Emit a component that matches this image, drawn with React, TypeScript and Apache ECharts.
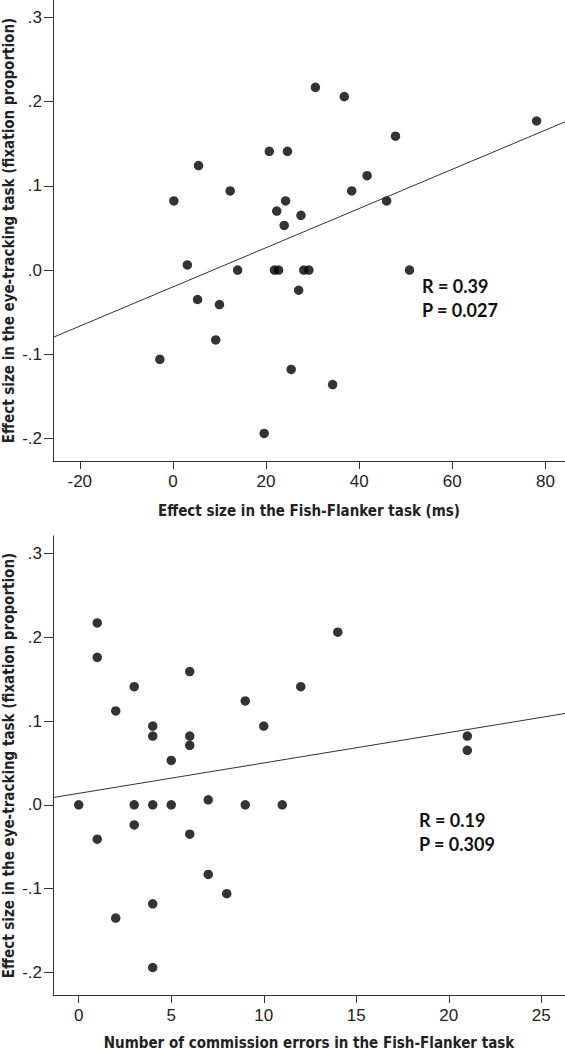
import React, { useEffect, useRef } from "react";
import * as echarts from "echarts";

// Top panel: Fish-Flanker effect size (ms) vs eye-tracking effect size
const flankerEffect = [0.2, 5.5, 12.3, 20.7, 24.6, 24.2, 22.3, 23.9, 27.5, 30.6, 36.8, 47.8, 41.7, 38.4, 45.9, 78.1, 3.1, 13.9, 21.8, 22.7, 28.1, 29.2, 5.3, 10.0, 9.2, -2.8, 19.6, 27.0, 25.4, 34.3, 50.8];
const eyeEffectTop = [0.082, 0.124, 0.094, 0.141, 0.141, 0.082, 0.070, 0.053, 0.065, 0.217, 0.206, 0.159, 0.112, 0.094, 0.082, 0.177, 0.006, 0, 0, 0, 0, 0, -0.035, -0.041, -0.083, -0.106, -0.194, -0.024, -0.118, -0.136, 0];

// Bottom panel: commission errors vs eye-tracking effect size
const commissionErrors = [1, 1, 2, 3, 4, 4, 5, 6, 6, 6, 9, 10, 12, 14, 21, 21, 0, 3, 4, 5, 7, 9, 11, 1, 3, 6, 7, 8, 4, 2, 4];
const eyeEffectBottom = [0.217, 0.176, 0.112, 0.141, 0.094, 0.082, 0.053, 0.159, 0.082, 0.071, 0.124, 0.094, 0.141, 0.206, 0.082, 0.065, 0, 0, 0, 0, 0.006, 0, 0, -0.041, -0.024, -0.035, -0.083, -0.106, -0.118, -0.135, -0.194];

// Fit lines (end points read at the axis edges)
const fitTop = [[-25.75, -0.080], [84.2, 0.176]];
const fitBottom = [[-1.39, 0.0087], [26.28, 0.109]];

// Axis ranges and tick labels
const xRangeTop = [-25.75, 84.2];
const xRangeBottom = [-1.39, 26.28];
const yRange = [-0.2268, 0.3207];
const xTicksTop = [-20, 0, 20, 40, 60, 80];
const xTicksBottom = [0, 5, 10, 15, 20, 25];
const yTicks = [-0.2, -0.1, 0, 0.1, 0.2, 0.3];

const statsTop = ["R = 0.39", "P = 0.027"];
const statsBottom = ["R = 0.19", "P = 0.309"];

const xTitleTop = "Effect size in the Fish-Flanker task (ms)";
const xTitleBottom = "Number of commission errors in the Fish-Flanker task";
const yTitle = "Effect size in the eye-tracking task (fixation proportion)";

const AXIS_COLOR = "#333";
const TICK_FONT = "'Liberation Sans', Arial, sans-serif";
const TITLE_FONT = "'Liberation Sans Narrow', 'DejaVu Sans Condensed', 'Liberation Sans', sans-serif";
const STAT_FONT = "Lato, 'Open Sans', sans-serif";

const fmtY = (v: number) => {
  const s = v.toFixed(1);
  return s.replace(/^(-?)0\./, "$1.");
};

function xAxisCfg(gridIndex: number, range: number[], ticks: number[], title: string, gap: number) {
  return {
    type: "value",
    gridIndex,
    min: range[0],
    max: range[1],
    name: title,
    nameLocation: "middle",
    nameGap: gap,
    nameMoveOverlap: false,
    nameTextStyle: { fontFamily: TITLE_FONT, fontWeight: "bold", fontSize: 15, color: "#222" },
    axisLine: { show: true, onZero: false, lineStyle: { color: AXIS_COLOR, width: 1 } },
    axisTick: { show: true, length: 8, customValues: ticks, lineStyle: { color: AXIS_COLOR } },
    axisLabel: { customValues: ticks, margin: 12, fontFamily: TICK_FONT, fontSize: 17, color: "#222" },
    splitLine: { show: false },
  };
}

function yAxisCfg(gridIndex: number) {
  return {
    type: "value",
    gridIndex,
    min: yRange[0],
    max: yRange[1],
    name: yTitle,
    nameLocation: "middle",
    nameGap: 37,
    nameMoveOverlap: false,
    nameTextStyle: { fontFamily: TITLE_FONT, fontWeight: "bold", fontSize: 15, color: "#222" },
    axisLine: { show: true, onZero: false, lineStyle: { color: AXIS_COLOR, width: 1 } },
    axisTick: { show: true, length: 9, customValues: yTicks, lineStyle: { color: AXIS_COLOR } },
    axisLabel: { customValues: yTicks, margin: 11, fontFamily: TICK_FONT, fontSize: 17, color: "#222", formatter: fmtY },
    splitLine: { show: false },
  };
}

export default function App() {
  const ref = useRef<HTMLDivElement>(null);
  useEffect(() => {
    document.body.style.margin = "0";
    if (!ref.current) return;
    const chart = echarts.init(ref.current, undefined, { renderer: "svg" });
    const topPts = flankerEffect.map((x, i) => [x, eyeEffectTop[i]]);
    const botPts = commissionErrors.map((x, i) => [x, eyeEffectBottom[i]]);
    const statText = (lines: string[], x: number, y: number) =>
      lines.map((t, i) => ({
        type: "text",
        x,
        y: y + i * 24,
        style: { text: t, font: `bold 18px ${STAT_FONT}`, fill: "#111", verticalAlign: "middle", align: "left" },
      }));
    chart.setOption({
      animation: false,
      backgroundColor: "#fff",
      grid: [
        { left: 53, top: 0, width: 512, height: 461, outerBoundsMode: "none", containLabel: false },
        { left: 53, top: 536, width: 512, height: 459, outerBoundsMode: "none", containLabel: false },
      ],
      xAxis: [
        xAxisCfg(0, xRangeTop, xTicksTop, xTitleTop, 42),
        xAxisCfg(1, xRangeBottom, xTicksBottom, xTitleBottom, 40),
      ],
      yAxis: [yAxisCfg(0), yAxisCfg(1)],
      series: [
        {
          type: "line",
          xAxisIndex: 0,
          yAxisIndex: 0,
          data: fitTop,
          showSymbol: false,
          lineStyle: { color: "#333", width: 1 },
          silent: true,
        },
        {
          type: "scatter",
          xAxisIndex: 0,
          yAxisIndex: 0,
          data: topPts,
          symbolSize: 9.5,
          itemStyle: { color: "#000" },
        },
        {
          type: "line",
          xAxisIndex: 1,
          yAxisIndex: 1,
          data: fitBottom,
          showSymbol: false,
          lineStyle: { color: "#333", width: 1 },
          silent: true,
        },
        {
          type: "scatter",
          xAxisIndex: 1,
          yAxisIndex: 1,
          data: botPts,
          symbolSize: 9.5,
          itemStyle: { color: "#000" },
        },
      ],
      graphic: [...statText(statsTop, 422, 285.5), ...statText(statsBottom, 419, 820)],
    });
    return () => chart.dispose();
  }, []);
  return <div ref={ref} style={{ width: 565, height: 1050 }} />;
}
